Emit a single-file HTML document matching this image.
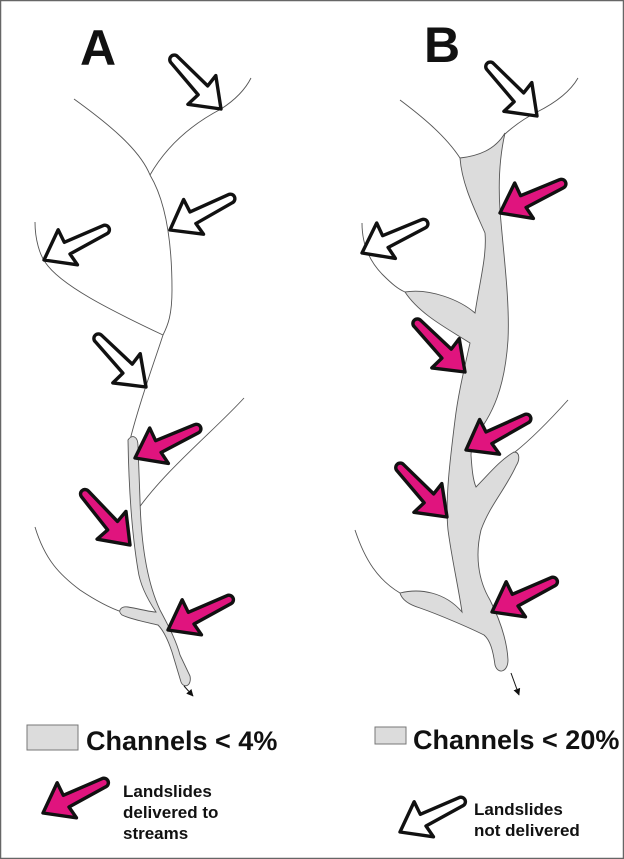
<!DOCTYPE html>
<html><head><meta charset="utf-8"><style>
html,body{margin:0;padding:0;background:#fff}
svg{display:block}
text{font-family:"Liberation Sans",Arial,sans-serif;font-weight:bold;fill:#111}
</style></head><body>
<svg width="624" height="859" viewBox="0 0 624 859" xmlns="http://www.w3.org/2000/svg">
<defs>
<path id="ar" d="M0,0 L-28,-19 L-26,-6 L-68,-4 A4.5,4.5 0 0 0 -68,5 L-26,7 L-26,21 Z" stroke="#111" stroke-width="3.4" stroke-linejoin="round"/>
<marker id="mh" viewBox="0 0 10 10" refX="9" refY="5" markerWidth="7" markerHeight="7" orient="auto"><path d="M0,0 L10,5 L0,10 Z" fill="#111"/></marker>
</defs>
<rect x="0.5" y="0.5" width="623" height="858" fill="#fff" stroke="#666" stroke-width="1.5"/>

<text x="80" y="65" font-size="50">A</text>
<text x="424" y="62" font-size="50">B</text>

<g fill="none" stroke="#555" stroke-width="0.9">
<path d="M74,99 C110,125 140,150 150,175 C165,200 172,240 172,290 C172,315 168,325 163,335 C155,360 140,400 130,440"/>
<path d="M150,175 C170,140 200,120 221,109 C235,100 245,90 251,78"/>
<path d="M35,222 C35,240 40,255 45,262 C60,285 110,310 163,335"/>
<path d="M244,398 C215,430 165,470 136,512"/>
<path d="M35,527 C45,560 60,575 80,590 C95,600 110,608 122,612"/>
</g>
<path d="M128,440 C132,434 138,436 138,446 L140,500 C141,540 146,580 160,610 C168,625 176,640 180,655 L190,676 C192,686 184,689 181,682 L172,652 C168,640 163,630 158,625 C145,622 130,619 122,615 C117,611 121,606 128,607 C140,609 150,612 156,612 C148,600 140,585 138,570 C133,540 129,500 128,440 Z" fill="#dcdcdc" stroke="#555" stroke-width="0.9"/>
<line x1="184" y1="686" x2="193" y2="696" stroke="#111" stroke-width="1" marker-end="url(#mh)"/>

<g fill="none" stroke="#555" stroke-width="0.9">
<path d="M400,100 C420,115 445,135 460,158"/>
<path d="M505,134 C515,125 525,118 537,112 C555,103 570,92 578,78"/>
<path d="M362,223 C362,245 370,262 383,275 C392,284 398,289 405,292"/>
<path d="M568,400 C550,420 530,440 515,452"/>
<path d="M355,530 C365,560 378,580 400,593"/>
</g>
<path d="M460,158 C478,156 495,150 505,133 C500,155 498,180 500,210 C503,250 510,300 508,340 C505,385 494,415 472,440 L471,455 C472,470 473,480 476,487 C488,475 500,460 514,452 C520,452 520,460 516,466 C505,490 490,505 481,530 C475,555 478,580 490,600 C500,620 507,640 508,660 C508,672 498,675 495,665 C493,650 490,640 484,635 C470,628 440,615 420,608 C410,605 402,600 400,593 C420,588 445,592 462,612 C458,585 452,560 448,530 C445,500 450,460 455,420 C458,395 464,370 470,343 C450,330 420,315 405,292 C430,288 460,300 475,313 C480,280 487,255 485,233 C475,210 462,185 460,158 Z" fill="#dcdcdc" stroke="#555" stroke-width="0.9"/>
<line x1="511" y1="673" x2="519" y2="695" stroke="#111" stroke-width="1" marker-end="url(#mh)"/>

<use href="#ar" fill="#fff" transform="translate(221,109) rotate(47)"/>
<use href="#ar" fill="#fff" transform="translate(170,230) rotate(153)"/>
<use href="#ar" fill="#fff" transform="translate(44,260) rotate(154)"/>
<use href="#ar" fill="#fff" transform="translate(146,387) rotate(46)"/>
<use href="#ar" fill="#e0147e" transform="translate(135,458) rotate(155)"/>
<use href="#ar" fill="#e0147e" transform="translate(130,545) rotate(49)"/>
<use href="#ar" fill="#e0147e" transform="translate(168,630) rotate(154)"/>

<use href="#ar" fill="#fff" transform="translate(537,116) rotate(47)"/>
<use href="#ar" fill="#e0147e" transform="translate(500,213) rotate(155)"/>
<use href="#ar" fill="#fff" transform="translate(362,253) rotate(155)"/>
<use href="#ar" fill="#e0147e" transform="translate(465,372) rotate(46)"/>
<use href="#ar" fill="#e0147e" transform="translate(466,450) rotate(153)"/>
<use href="#ar" fill="#e0147e" transform="translate(447,517) rotate(47)"/>
<use href="#ar" fill="#e0147e" transform="translate(492,612) rotate(154)"/>

<rect x="27" y="725" width="51" height="25" fill="#dcdcdc" stroke="#777" stroke-width="1"/>
<text x="86" y="750" font-size="27">Channels &lt; 4%</text>
<rect x="375" y="727" width="31" height="17" fill="#dcdcdc" stroke="#777" stroke-width="1"/>
<text x="413" y="749" font-size="27">Channels &lt; 20%</text>

<use href="#ar" fill="#e0147e" transform="translate(43,813) rotate(154)"/>
<text font-size="17"><tspan x="123" y="797">Landslides</tspan><tspan x="123" y="818">delivered to</tspan><tspan x="123" y="839">streams</tspan></text>
<use href="#ar" fill="#fff" transform="translate(400,832) rotate(154)"/>
<text font-size="17"><tspan x="474" y="815">Landslides</tspan><tspan x="474" y="836">not delivered</tspan></text>
</svg>
</body></html>
